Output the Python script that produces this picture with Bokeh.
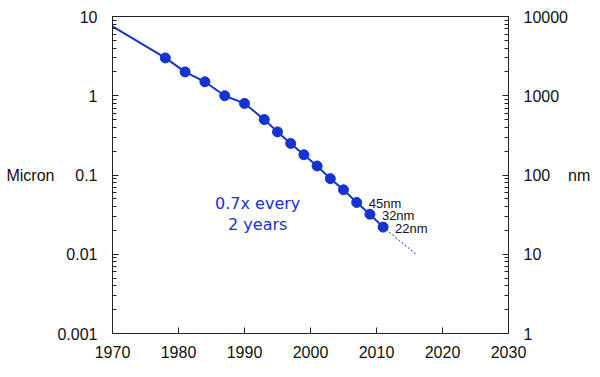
from bokeh.plotting import figure
from bokeh.models import (Range1d, LogScale, LogAxis, FixedTicker, CustomJSTickFormatter,
                          ColumnDataSource, Label)
from bokeh.embed import file_html
from bokeh.resources import INLINE
from bokeh.core.properties import value

# ---- data ----
years = [1978, 1981, 1984, 1987, 1990, 1993, 1995, 1997, 1999, 2001, 2003, 2005, 2007, 2009, 2011]
micron = [3.0, 2.0, 1.5, 1.0, 0.8, 0.5, 0.35, 0.25, 0.18, 0.13, 0.09, 0.065, 0.045, 0.032, 0.022]
trend_start_year = [1970]
trend_start_value = [7.5]
proj_years = [2011, 2016]
proj_values = [0.022, 0.01]
node_labels = ["45nm", "32nm", "22nm"]
node_years = [2007, 2009, 2011]
node_values = [0.045, 0.032, 0.022]
x_ticks = [1970, 1980, 1990, 2000, 2010, 2020, 2030]
micron_ticks = [0.001, 0.01, 0.1, 1, 10]
nm_ticks = [1, 10, 100, 1000, 10000]
note_lines = ["0.7x every", "2 years"]

BLUE = "#1434CF"
AXIS = "#222222"
FONT = "Liberation Sans"

p = figure(width=600, height=377, output_backend="svg", toolbar_location=None,
           x_range=Range1d(1970, 2030), y_range=Range1d(0.001, 10), y_axis_type="log",
           min_border_left=112, min_border_right=92, min_border_top=16, min_border_bottom=44,
           background_fill_color="white", border_fill_color="white")
p.outline_line_color = AXIS
p.outline_line_width = 1
p.xgrid.visible = False
p.ygrid.visible = False

p.extra_y_ranges = {"nm": Range1d(1, 10000)}
p.extra_y_scales = {"nm": LogScale()}

def minor_for(ticks):
    out = []
    for t in ticks[:-1]:
        out += [t * k for k in range(2, 10)]
    return out

fmt = CustomJSTickFormatter(code="return String(tick);")

# left axis
ya = p.yaxis[0]
ya.ticker = FixedTicker(ticks=micron_ticks, minor_ticks=minor_for(micron_ticks))
ya.formatter = fmt
ya.axis_label = "Micron"
ya.axis_label_orientation = "horizontal"
ya.axis_label_standoff = 0

# right axis
ra = LogAxis(y_range_name="nm")
ra.ticker = FixedTicker(ticks=nm_ticks, minor_ticks=minor_for(nm_ticks))
ra.formatter = fmt
ra.axis_label = "nm"
ra.axis_label_orientation = "horizontal"
ra.axis_label_standoff = -3
p.add_layout(ra, "right")

xa = p.xaxis[0]
xa.ticker = FixedTicker(ticks=x_ticks)

for ax in [ya, ra]:
    ax.major_tick_in = 6
    ax.major_tick_out = 0
    ax.minor_tick_in = 4
    ax.minor_tick_out = 0
    ax.major_label_standoff = 15
for ax in [ya, ra, xa]:
    ax.axis_line_color = AXIS
    ax.major_tick_line_color = AXIS
    ax.minor_tick_line_color = AXIS
    ax.major_label_text_font = FONT
    ax.major_label_text_font_size = "16px"
    ax.major_label_text_color = "#111111"
    ax.axis_label_text_font = FONT
    ax.axis_label_text_font_size = "16px"
    ax.axis_label_text_font_style = "normal"
    ax.axis_label_text_color = "#111111"
xa.major_tick_in = 6
xa.major_tick_out = 0
xa.minor_tick_line_color = None
xa.major_label_standoff = 12

# trend line through data
p.line(trend_start_year + years, trend_start_value + micron, line_color=BLUE, line_width=2)
# projection
p.line(proj_years, proj_values, line_color=BLUE, line_width=1, line_dash="2 2")
# points
p.scatter(years, micron, size=10, fill_color=BLUE, line_color=BLUE)

# node labels
src = ColumnDataSource(dict(x=node_years, y=node_values, t=node_labels))
p.text("x", "y", text="t", source=src, x_offset=12, y_offset=1,
       text_font=value(FONT), text_font_size="13px", text_color="#111111",
       text_baseline="alphabetic", text_align="left")

# note
p.add_layout(Label(x=1992, y=0.0438, text=note_lines[0], text_align="center",
                   text_baseline="alphabetic", text_font="DejaVu Sans",
                   text_font_size="16px", text_color=BLUE))
p.add_layout(Label(x=1992, y=0.0239, text=note_lines[1], text_align="center",
                   text_baseline="alphabetic", text_font="DejaVu Sans",
                   text_font_size="16px", text_color=BLUE))

open("out.html", "w").write(file_html(p, INLINE))
